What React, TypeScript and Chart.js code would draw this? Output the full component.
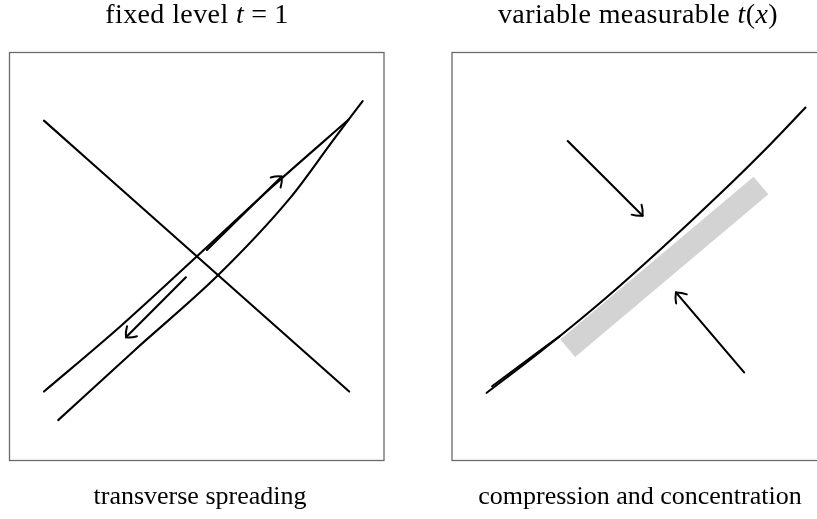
import React, { useEffect, useRef } from "react";
import { Chart, registerables } from "chart.js";

Chart.register(...registerables);

type Pt = [number, number];

// ---- Left panel: "fixed level t = 1" (data units 0..100 on both axes) ----
const leftCrossLine: Pt[] = [[9.2, 83.3], [90.7, 16.9]];
const leftUpperCurve: Pt[] = [[9.2, 16.9], [29.5, 32.8], [50.0, 50.0], [70.3, 67.2], [90.5, 83.5]];
const leftLowerCurve: Pt[] = [[13.0, 9.9], [33.5, 27.1], [55.8, 45.5], [74.9, 64.3], [86.5, 78.6], [94.3, 88.1]];
const leftArrowOut: Pt[] = [[52.7, 51.6], [72.7, 69.6]];
const leftArrowBack: Pt[] = [[47.1, 44.9], [31.1, 30.2]];

// ---- Right panel: "variable measurable t(x)" ----
const rightMainCurve: Pt[] = [[9.27, 16.6], [23.5, 26.6], [39.5, 38.6], [55.5, 51.6], [71.5, 65.3], [84.9, 77.4], [94.4, 86.5]];
const rightShortCurve: Pt[] = [[10.7, 18.2], [18.5, 23.5], [28.8, 30.5]];
const rightBand: Pt[] = [[30.9, 27.5], [82.5, 67.4]];
const rightArrowFromAbove: Pt[] = [[30.9, 78.3], [50.9, 60.0]];
const rightArrowFromBelow: Pt[] = [[78.0, 21.6], [59.8, 41.2]];

const leftTitle = { pre: "fixed level ", math: "t", post: "1" };
const rightTitle = { pre: "variable measurable ", math: "t", post: "(", math2: "x", post2: ")" };
const leftCaption = "transverse spreading";
const rightCaption = "compression and concentration";

const toXY = (pts: Pt[]) => pts.map(([x, y]) => ({ x, y }));

function drawHead(ctx: CanvasRenderingContext2D, x0: number, y0: number, x1: number, y1: number) {
  const dx = x1 - x0, dy = y1 - y0;
  const len = Math.hypot(dx, dy) || 1;
  const ux = dx / len, uy = dy / len;
  const nx = -uy, ny = ux;
  const back = 8.5, half = 7;
  ctx.save();
  ctx.strokeStyle = "#000";
  ctx.lineWidth = 2;
  ctx.lineCap = "round";
  ctx.beginPath();
  for (const s of [1, -1]) {
    const ex = x1 - back * ux + s * half * nx;
    const ey = y1 - back * uy + s * half * ny;
    const cx = x1 - back * 0.4 * ux + s * half * 0.6 * nx;
    const cy = y1 - back * 0.4 * uy + s * half * 0.6 * ny;
    ctx.moveTo(ex, ey);
    ctx.quadraticCurveTo(cx, cy, x1, y1);
  }
  ctx.stroke();
  ctx.restore();
}

const framePlugin = {
  id: "frameAndHeads",
  afterDatasetsDraw(chart: any) {
    const { ctx, chartArea } = chart;
    ctx.save();
    ctx.strokeStyle = "#6a6a6a";
    ctx.lineWidth = 1.3;
    ctx.strokeRect(chartArea.left, chartArea.top, chartArea.right - chartArea.left, chartArea.bottom - chartArea.top);
    ctx.restore();
    chart.data.datasets.forEach((ds: any, i: number) => {
      if (!ds.arrowHead) return;
      const pts = chart.getDatasetMeta(i).data;
      if (pts.length < 2) return;
      const a = pts[pts.length - 2], b = pts[pts.length - 1];
      drawHead(ctx, a.x, a.y, b.x, b.y);
    });
  },
};

type Series = { pts: Pt[]; width?: number; color?: string; arrow?: boolean; order?: number; butt?: boolean };

function Panel({ left, width, padding, series }: { left: number; width: number; padding: any; series: Series[] }) {
  const ref = useRef<HTMLCanvasElement>(null);
  useEffect(() => {
    if (!ref.current) return;
    const chart = new Chart(ref.current, {
      type: "scatter",
      data: {
        datasets: series.map((s) => ({
          data: toXY(s.pts),
          showLine: true,
          borderColor: s.color || "#000",
          backgroundColor: s.color || "#000",
          borderWidth: s.width || 2.1,
          borderCapStyle: s.butt ? "butt" : "round",
          pointRadius: 0,
          pointHoverRadius: 0,
          cubicInterpolationMode: "monotone",
          order: s.order || 0,
          arrowHead: !!s.arrow,
        })) as any,
      },
      options: {
        responsive: false,
        maintainAspectRatio: false,
        animation: false,
        events: [],
        layout: { padding },
        scales: {
          x: { type: "linear", min: 0, max: 100, display: false },
          y: { type: "linear", min: 0, max: 100, display: false },
        },
        plugins: { legend: { display: false }, tooltip: { enabled: false }, title: { display: false } },
      },
      plugins: [framePlugin],
    });
    return () => chart.destroy();
  }, []);
  return (
    <canvas
      ref={ref}
      width={width}
      height={519}
      style={{ position: "absolute", left, top: 0, width, height: 519 }}
    />
  );
}

const textStyle: React.CSSProperties = {
  position: "absolute",
  fontFamily: "'Liberation Serif', 'Times New Roman', serif",
  fontSize: 26,
  lineHeight: "26px",
  color: "#000",
  whiteSpace: "nowrap",
  transform: "translateX(-50%)",
};

const titleStyle: React.CSSProperties = {
  ...textStyle,
  fontSize: 28,
  lineHeight: "28px",
  letterSpacing: "0.4px",
  top: 0,
};

export default function App() {
  return (
    <div style={{ position: "fixed", left: 0, top: 0, width: 817, height: 519, overflow: "hidden", background: "#fff" }}>
      <Panel
        left={0}
        width={400}
        padding={{ left: 9.5, top: 52.5, right: 16, bottom: 58.5 }}
        series={[
          { pts: leftCrossLine },
          { pts: leftUpperCurve },
          { pts: leftLowerCurve },
          { pts: leftArrowOut, arrow: true },
          { pts: leftArrowBack, arrow: true },
        ]}
      />
      <Panel
        left={420}
        width={420}
        padding={{ left: 32, top: 52.5, right: 13.5, bottom: 58.5 }}
        series={[
          { pts: rightBand, width: 23, color: "#d3d3d3", order: 10, butt: true },
          { pts: rightMainCurve },
          { pts: rightShortCurve },
          { pts: rightArrowFromAbove, arrow: true },
          { pts: rightArrowFromBelow, arrow: true },
        ]}
      />
      <div style={{ ...titleStyle, left: 197 }}>
        {leftTitle.pre}
        <i>{leftTitle.math}</i>
        <span style={{ margin: "0 7px" }}>=</span>
        {leftTitle.post}
      </div>
      <div style={{ ...titleStyle, left: 638 }}>
        {rightTitle.pre}
        <i>{rightTitle.math}</i>
        {rightTitle.post}
        <i>{rightTitle.math2}</i>
        {rightTitle.post2}
      </div>
      <div style={{ ...textStyle, left: 200, top: 483 }}>{leftCaption}</div>
      <div style={{ ...textStyle, left: 640, top: 483 }}>{rightCaption}</div>
    </div>
  );
}
